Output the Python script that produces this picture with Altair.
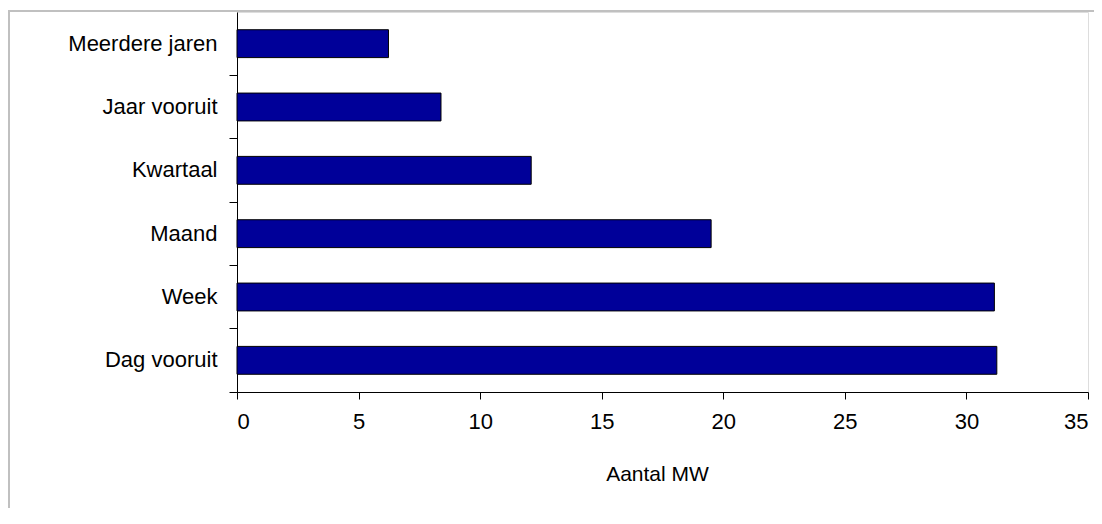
import altair as alt
import pandas as pd

categories = ["Meerdere jaren", "Jaar vooruit", "Kwartaal", "Maand", "Week", "Dag vooruit"]
values = [6.23, 8.39, 12.1, 19.5, 31.15, 31.25]
x_ticks = [0, 5, 10, 15, 20, 25, 30, 35]

df = pd.DataFrame({"cat": categories, "mw": values})

FONT = "Liberation Sans"
W, H = 851, 380

bars = alt.Chart(df).mark_bar(
    color="#000099", stroke="#000000", strokeWidth=1, height={"band": 0.44}
).encode(
    x=alt.X("mw:Q", title="Aantal MW",
            scale=alt.Scale(domain=[0, 35], nice=False, zero=True),
            axis=alt.Axis(values=x_ticks, grid=False, domainColor="#000000",
                          tickColor="#000000", tickSize=7, labelFont=FONT,
                          labelFontSize=22, labelColor="#000000", labelPadding=12,
                          titleFont=FONT, titleFontSize=21, titleFontWeight="normal",
                          titleColor="#000000", titlePadding=31, titleX=420)),
    y=alt.Y("cat:N", title=None, sort=categories,
            scale=alt.Scale(paddingInner=0, paddingOuter=0),
            axis=alt.Axis(grid=False, domainColor="#000000", tickColor="#000000",
                          tickSize=8, bandPosition=1,
                          labelFont=FONT, labelFontSize=22, labelColor="#000000",
                          labelPadding=12, labelLimit=300)),
)

frame_df = pd.DataFrame({"k": [0]})
frame = alt.Chart(frame_df).mark_rect(
    fill="transparent", stroke="#c0c0c0", strokeWidth=2
).encode(
    x=alt.value(-228), x2=alt.value(W + 40),
    y=alt.value(-1), y2=alt.value(H + 200),
)

chart = alt.layer(frame, bars).properties(
    width=W, height=H,
    autosize=alt.AutoSizeParams(type="none"),
    padding={"left": 229, "top": 4, "right": 6, "bottom": 116},
).configure_view(stroke=None).configure(background="#ffffff")

chart.save("out.html", embed_options={"renderer": "svg", "actions": False})
